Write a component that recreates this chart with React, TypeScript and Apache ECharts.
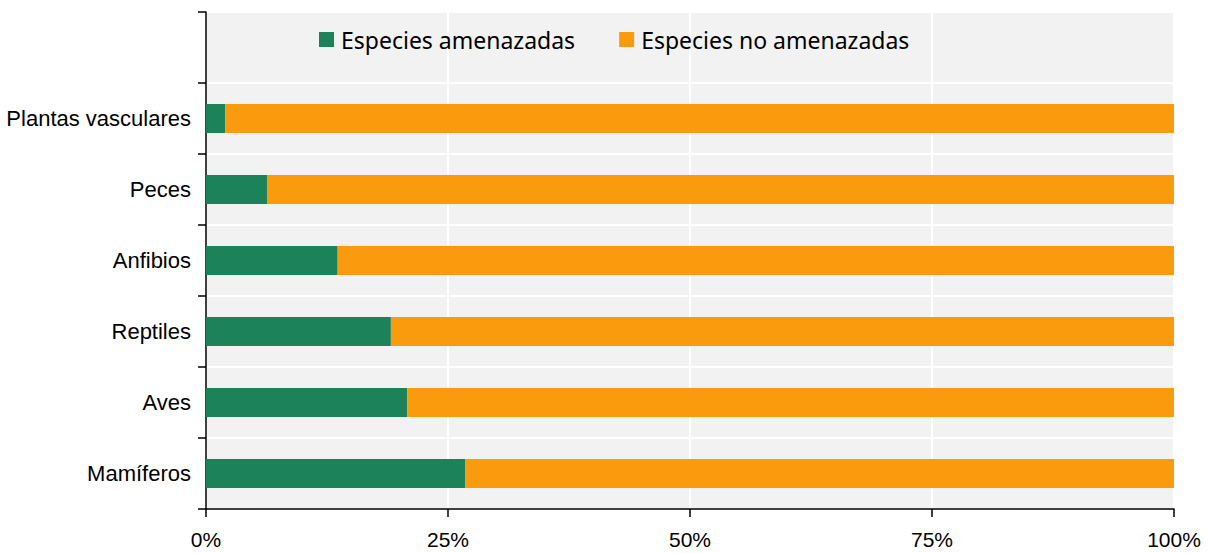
import React, { useEffect, useRef } from "react";
import * as echarts from "echarts";

const categories = ["Mamíferos", "Aves", "Reptiles", "Anfibios", "Peces", "Plantas vasculares", ""];
const amenazadas: (number | string)[] = [26.8, 20.8, 19.1, 13.6, 6.3, 2.0, "-"];
const noAmenazadas: (number | string)[] = [73.2, 79.2, 80.9, 86.4, 93.7, 98.0, "-"];
const seriesNames = ["Especies amenazadas", "Especies no amenazadas"];
const xTicks = [0, 25, 50, 75, 100];

export default function App() {
  const ref = useRef<HTMLDivElement>(null);
  useEffect(() => {
    document.body.style.margin = "0";
    if (!ref.current) return;
    const chart = echarts.init(ref.current, null, { renderer: "svg" });
    chart.setOption({
      animation: false,
      backgroundColor: "#ffffff",
      legend: {
        left: 314,
        top: 23,
        itemWidth: 15,
        itemHeight: 15,
        itemGap: 44,
        icon: "rect",
        textStyle: { fontFamily: "Noto Sans", fontSize: 23, color: "#000000", padding: [0, 0, 0, 2] },
        data: seriesNames,
      },
      grid: {
        left: 206,
        right: 34,
        top: 12,
        bottom: 44,
        show: true,
        backgroundColor: "#f2f2f2",
        borderWidth: 0,
      },
      xAxis: {
        type: "value",
        min: xTicks[0],
        max: xTicks[xTicks.length - 1],
        interval: 25,
        axisLine: { show: true, lineStyle: { color: "#000000", width: 1.5 } },
        axisTick: { show: true, length: 8, lineStyle: { color: "#000000", width: 1.5 } },
        axisLabel: {
          formatter: "{value}%",
          fontFamily: "Liberation Sans",
          fontSize: 21,
          color: "#000000",
          margin: 20,
        },
        splitLine: { show: true, lineStyle: { color: "#ffffff", width: 2 } },
      },
      yAxis: {
        type: "category",
        data: categories,
        boundaryGap: true,
        axisLine: { show: true, lineStyle: { color: "#000000", width: 1.5 } },
        axisTick: { show: true, length: 8, interval: 0, lineStyle: { color: "#000000", width: 1.5 } },
        axisLabel: {
          fontFamily: "Liberation Sans",
          fontSize: 22,
          color: "#000000",
          margin: 15,
          interval: 0,
        },
        splitLine: { show: true, interval: 0, lineStyle: { color: "#ffffff", width: 2 } },
      },
      series: [
        {
          name: seriesNames[0],
          type: "bar",
          stack: "total",
          barWidth: 29,
          itemStyle: { color: "#1b825a" },
          data: amenazadas,
        },
        {
          name: seriesNames[1],
          type: "bar",
          stack: "total",
          barWidth: 29,
          itemStyle: { color: "#f99b0d" },
          data: noAmenazadas,
        },
      ],
    });
    return () => chart.dispose();
  }, []);
  return <div ref={ref} style={{ width: 1208, height: 553 }} />;
}
